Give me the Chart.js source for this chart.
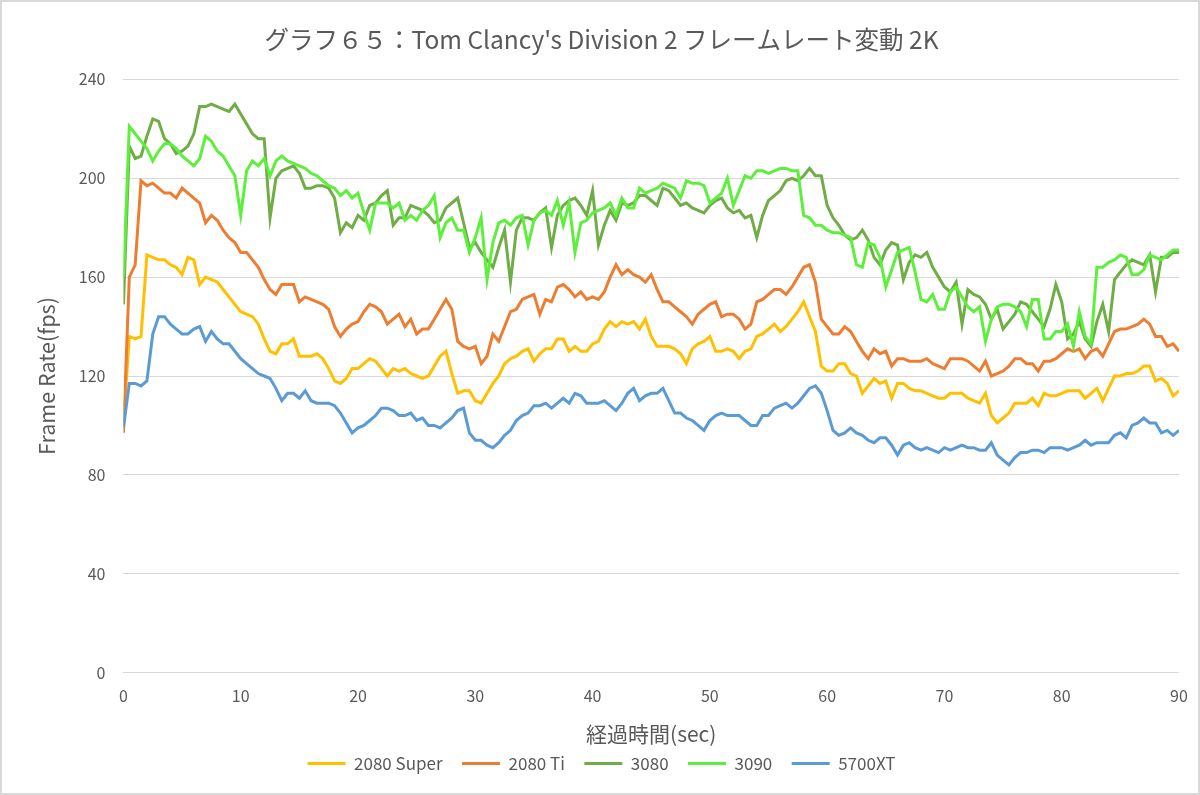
<!DOCTYPE html>
<html>
<head>
<meta charset="utf-8">
<script src="https://cdn.jsdelivr.net/npm/chart.js@4.4.0/dist/chart.umd.min.js"></script>
<style>
  html, body { margin: 0; padding: 0; background: #fff; }
  #wrap { width: 1200px; height: 795px; }
</style>
</head>
<body>
<div id="wrap"><canvas id="fps-chart" width="1200" height="795"></canvas></div>
<script>
// frame rate samples every 0.5 s, 0..90 s
const super2080 = [
  100,136,135,136,169,168,167,167,165,164,
  161,168,167,157,160,159,158,155,152,149,
  146,145,144,141,135,130,129,133,133,135,
  128,128,128,129,127,123,118,117,119,123,
  123,125,127,126,123,120,123,122,123,121,
  120,119,120,124,128,130,121,113,114,114,
  110,109,113,117,120,125,127,128,130,131,
  126,129,131,131,135,135,130,132,130,130,
  133,134,139,142,140,142,141,142,139,143,
  136,132,132,132,131,129,125,131,133,134,
  136,130,130,131,130,127,130,131,136,137,
  139,141,138,140,143,146,150,144,138,124,
  122,122,125,125,121,120,113,116,119,117,
  118,111,117,117,115,114,114,113,112,111,
  111,113,113,113,111,110,109,113,104,101,
  103,105,109,109,109,111,108,113,112,112,
  113,114,114,114,111,113,115,110,115,120,
  120,121,121,122,124,124,118,119,117,112,
  114
];
const ti2080 = [
  97,160,165,199,197,198,196,194,194,192,
  196,194,192,190,182,185,183,179,176,174,
  170,170,167,164,159,155,153,157,157,157,
  150,152,151,150,149,147,140,136,139,141,
  142,146,149,148,146,141,143,145,140,143,
  137,139,139,143,147,151,147,134,132,131,
  132,125,128,137,134,140,146,147,151,152,
  153,145,151,150,156,157,155,152,154,151,
  152,151,154,160,165,161,163,161,160,158,
  161,155,150,150,148,146,144,141,145,147,
  149,150,144,145,145,143,139,141,150,151,
  153,155,155,153,156,160,164,165,158,143,
  140,137,137,140,138,134,130,127,131,129,
  130,124,127,127,126,126,126,127,125,124,
  123,127,127,127,126,124,122,126,120,121,
  122,124,127,127,125,125,122,126,126,127,
  129,131,130,131,127,130,131,128,133,138,
  139,139,140,141,143,141,136,136,132,133,
  130
];
const rtx3080 = [
  149,213,208,209,217,224,223,216,214,210,
  211,213,218,229,229,230,229,228,227,230,
  226,222,218,216,216,184,200,203,204,205,
  202,196,196,197,197,196,192,178,182,180,
  185,183,189,190,193,195,181,184,184,189,
  188,187,185,182,183,188,190,192,182,172,
  174,170,167,164,172,179,158,179,184,184,
  183,186,188,172,185,189,191,192,189,185,
  195,173,181,187,183,190,189,190,193,193,
  191,189,196,195,192,189,190,188,187,186,
  189,191,192,188,186,187,184,185,176,185,
  191,193,195,199,200,199,201,204,201,201,
  189,184,181,177,175,176,179,175,168,165,
  171,174,173,159,166,169,168,170,164,160,
  156,154,158,141,155,153,152,149,143,147,
  139,142,145,150,149,146,143,140,147,157,
  150,135,137,142,135,132,142,149,138,159,
  162,165,167,166,165,169,154,168,168,170,
  170
];
const rtx3090 = [
  160,221,218,215,212,207,211,214,214,212,
  209,207,205,208,217,215,211,209,205,201,
  185,203,207,205,208,201,207,209,207,206,
  205,204,202,201,199,197,196,193,195,192,
  194,186,179,190,190,190,188,190,183,185,
  183,187,189,193,176,182,184,179,179,170,
  176,184,159,174,182,183,181,184,185,173,
  183,186,187,185,191,181,190,170,182,183,
  186,187,188,190,185,192,188,188,196,194,
  195,196,198,197,196,192,199,198,198,197,
  190,192,194,200,189,195,201,200,203,203,
  202,203,204,204,203,203,185,184,181,181,
  179,178,178,177,176,165,164,174,173,168,
  156,163,170,171,172,162,151,150,153,147,
  147,154,156,152,148,146,148,134,143,148,
  149,149,148,146,140,151,151,135,135,138,
  138,141,132,146,136,133,164,164,166,167,
  169,168,161,161,163,169,168,167,169,171,
  171
];
const rx5700xt = [
  99,117,117,116,118,137,144,144,141,139,
  137,137,139,140,134,138,135,133,133,130,
  127,125,123,121,120,119,115,110,113,113,
  111,114,110,109,109,109,108,105,101,97,
  99,100,102,104,107,107,106,104,104,105,
  102,103,100,100,99,101,103,106,107,97,
  94,94,92,91,93,96,98,102,104,105,
  108,108,109,107,109,111,109,113,112,109,
  109,109,110,108,106,109,113,115,110,112,
  113,113,115,110,105,105,103,102,100,98,
  102,104,105,104,104,104,102,100,100,104,
  104,107,108,109,107,109,112,115,116,113,
  106,98,96,97,99,97,96,94,93,95,
  95,92,88,92,93,91,90,91,90,89,
  91,90,91,92,91,91,90,90,93,88,
  86,84,87,89,89,90,90,89,91,91,
  91,90,91,92,94,92,93,93,93,96,
  97,95,100,101,103,101,101,97,98,96,
  98
];
const seconds = super2080.map((_, i) => i * 0.5);
const seriesNames = ['2080 Super', '2080 Ti', '3080', '3090', '5700XT'];
const seriesColors = ['#FFC000', '#ED7D31', '#70AD47', '#5CF03A', '#5B9BD5'];
const seriesValues = [super2080, ti2080, rtx3080, rtx3090, rx5700xt];

const FONT = "'Noto Sans CJK JP', 'Noto Sans', sans-serif";
const TEXT = '#595959';

const frame = {
    id: 'frame',
    beforeDraw(chart) {
        const c = chart.ctx;
        c.save();
        c.fillStyle = '#fff';
        c.fillRect(0, 0, chart.width, chart.height);
        c.restore();
    },
    afterDraw(chart) {
        const c = chart.ctx;
        c.save();
        c.strokeStyle = '#d9d9d9';
        c.lineWidth = 2;
        c.strokeRect(1, 1, chart.width - 2, chart.height - 2);
        c.restore();
    }
};

// legend in series order (drawing order is reversed so later series sit on top)
function legendLabels(chart) {
    const items = Chart.defaults.plugins.legend.labels.generateLabels(chart)
        .sort((a, b) => a.datasetIndex - b.datasetIndex);
    return items.map((item, i) => {
        item.text = i < items.length - 1 ? item.text + '   ' : item.text;
        return item;
    });
}

const ctx = document.getElementById('fps-chart').getContext('2d');
new Chart(ctx, {
    type: 'line',
    data: {
        datasets: seriesNames.map((name, s) => ({
            label: name,
            data: seriesValues[s].map((v, i) => ({ x: seconds[i], y: v })),
            borderColor: seriesColors[s],
            backgroundColor: seriesColors[s],
            borderWidth: 3,
            pointRadius: 0,
            tension: 0,
            fill: false,
            order: seriesNames.length - s
        }))
    },
    options: {
        responsive: false,
        animation: false,
        devicePixelRatio: 1,
        layout: { padding: { left: 24, right: 21, top: 10, bottom: 13 } },
        plugins: {
            title: {
                display: true,
                text: "グラフ６５：Tom Clancy's Division 2 フレームレート変動 2K",
                color: TEXT,
                font: { family: FONT, size: 24.5, weight: 'normal' },
                padding: { top: 15, bottom: 25 }
            },
            legend: {
                position: 'bottom',
                labels: {
                    usePointStyle: true,
                    pointStyle: 'line',
                    pointStyleWidth: 38,
                    color: TEXT,
                    padding: 8,
                    font: { family: FONT, size: 17 },
                    generateLabels: legendLabels
                }
            },
            tooltip: { enabled: false }
        },
        scales: {
            x: {
                type: 'linear',
                min: 0,
                max: 90,
                grid: { display: false },
                border: { display: false },
                ticks: {
                    stepSize: 10,
                    color: TEXT,
                    padding: 6,
                    font: { family: FONT, size: 16 }
                },
                title: {
                    display: true,
                    text: '経過時間(sec)',
                    color: TEXT,
                    font: { family: FONT, size: 21 },
                    padding: { top: 10, bottom: 0 }
                }
            },
            y: {
                min: 0,
                max: 240,
                grid: { color: '#d9d9d9', lineWidth: 1, drawTicks: false },
                border: { display: false },
                ticks: {
                    stepSize: 40,
                    color: TEXT,
                    padding: 18,
                    font: { family: FONT, size: 16 }
                },
                title: {
                    display: true,
                    text: 'Frame Rate(fps)',
                    color: TEXT,
                    font: { family: FONT, size: 21.5 },
                    padding: { top: 10, bottom: 1 }
                }
            }
        }
    },
    plugins: [frame]
});
</script>
</body>
</html>
